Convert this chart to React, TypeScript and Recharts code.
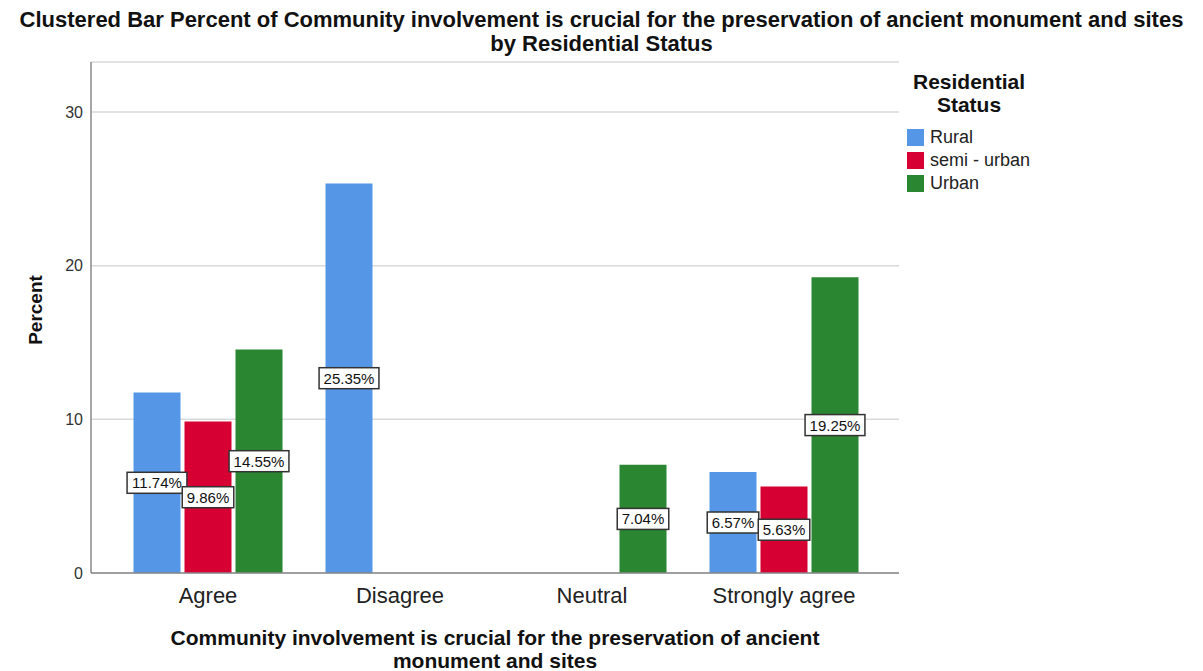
import { BarChart, Bar, XAxis, YAxis, CartesianGrid, LabelList } from "recharts";

const categories = ["Agree", "Disagree", "Neutral", "Strongly agree"];
const rural = [11.74, 25.35, 0, 6.57];
const semiUrban = [9.86, 0, 0, 5.63];
const urban = [14.55, 0, 7.04, 19.25];
const yTicks = [0, 10, 20, 30];

const seriesKeys = ["rural", "semi", "urban"];
const seriesNames = ["Rural", "semi - urban", "Urban"];
const seriesColors = ["#5596E6", "#D60032", "#2A8630"];

const data = categories.map((c, i) => ({
  category: c,
  rural: rural[i],
  semi: semiUrban[i],
  urban: urban[i],
}));

const FONT = '"Liberation Sans", Arial, sans-serif';

// rough Arial width so the label box fits its text
const textWidth = (s: string, size: number) => {
  let w = 0;
  for (const ch of s) {
    if (ch === ".") w += 0.278;
    else if (ch === "%") w += 0.889;
    else w += 0.556;
  }
  return w * size;
};

const ValueBox = (props: any) => {
  const { x, y, width, height, value } = props;
  if (!value) return null;
  const label = `${Number(value).toFixed(2)}%`;
  const fs = 15;
  const w = textWidth(label, fs) + 9;
  const h = 21;
  const cx = x + width / 2;
  const cy = y + height / 2;
  return (
    <g>
      <rect x={cx - w / 2} y={cy - h / 2} width={w} height={h} fill="#fff" stroke="#333" strokeWidth={1.5} />
      <text x={cx} y={cy} textAnchor="middle" dominantBaseline="central" fontSize={fs} fontFamily={FONT} fill="#111">
        {label}
      </text>
    </g>
  );
};

export default function App() {
  return (
    <div style={{ position: "absolute", left: 0, top: 0, width: 1203, height: 671, background: "#fff", fontFamily: FONT }}>
      <div
        style={{
          position: "absolute",
          top: 8,
          left: 0,
          width: 1203,
          textAlign: "center",
          fontWeight: "bold",
          fontSize: 22,
          lineHeight: "24px",
          color: "#111",
          whiteSpace: "nowrap",
        }}
      >
        Clustered Bar Percent of Community involvement is crucial for the preservation of ancient monument and sites
        <br />
        by Residential Status
      </div>

      <BarChart
        width={1203}
        height={671}
        data={data}
        margin={{ top: 62, right: 304, left: 41, bottom: 58 }}
        barCategoryGap={21.5}
        barGap={4}
      >
        <CartesianGrid vertical={false} stroke="#d9d9d9" strokeWidth={1.5} />
        <XAxis
          dataKey="category"
          height={40}
          padding={{ left: 21, right: 19 }}
          tickLine={false}
          tickMargin={8}
          axisLine={{ stroke: "#888", strokeWidth: 1.5 }}
          tick={{ fontSize: 22, fill: "#222", fontFamily: FONT }}
        />
        <YAxis
          width={50}
          domain={[0, 33.25]}
          ticks={yTicks}
          tickLine={false}
          axisLine={{ stroke: "#888", strokeWidth: 1.5 }}
          tick={{ fontSize: 16, fill: "#333", fontFamily: FONT }}
        />
        {seriesKeys.map((k, i) => (
          <Bar key={k} dataKey={k} name={seriesNames[i]} fill={seriesColors[i]} isAnimationActive={false}>
            <LabelList dataKey={k} content={ValueBox} />
          </Bar>
        ))}
      </BarChart>

      <div
        style={{
          position: "absolute",
          left: 91,
          width: 808,
          top: 626,
          textAlign: "center",
          fontWeight: "bold",
          fontSize: 21,
          lineHeight: "23px",
          color: "#111",
          whiteSpace: "nowrap",
        }}
      >
        Community involvement is crucial for the preservation of ancient
        <br />
        monument and sites
      </div>

      <div
        style={{
          position: "absolute",
          left: 36,
          top: 310,
          transform: "translate(-50%, -50%) rotate(-90deg)",
          fontWeight: "bold",
          fontSize: 19,
          color: "#111",
          whiteSpace: "nowrap",
        }}
      >
        Percent
      </div>

      <div
        style={{
          position: "absolute",
          left: 899,
          width: 140,
          top: 70,
          textAlign: "center",
          fontWeight: "bold",
          fontSize: 21,
          lineHeight: "23px",
          color: "#111",
        }}
      >
        Residential
        <br />
        Status
      </div>
      {seriesNames.map((n, i) => (
        <div
          key={n}
          style={{ position: "absolute", left: 907, top: 129 + i * 23, height: 17, display: "flex", alignItems: "center" }}
        >
          <div style={{ width: 17, height: 17, background: seriesColors[i] }} />
          <span style={{ marginLeft: 6, fontSize: 18, color: "#222" }}>{n}</span>
        </div>
      ))}
    </div>
  );
}
